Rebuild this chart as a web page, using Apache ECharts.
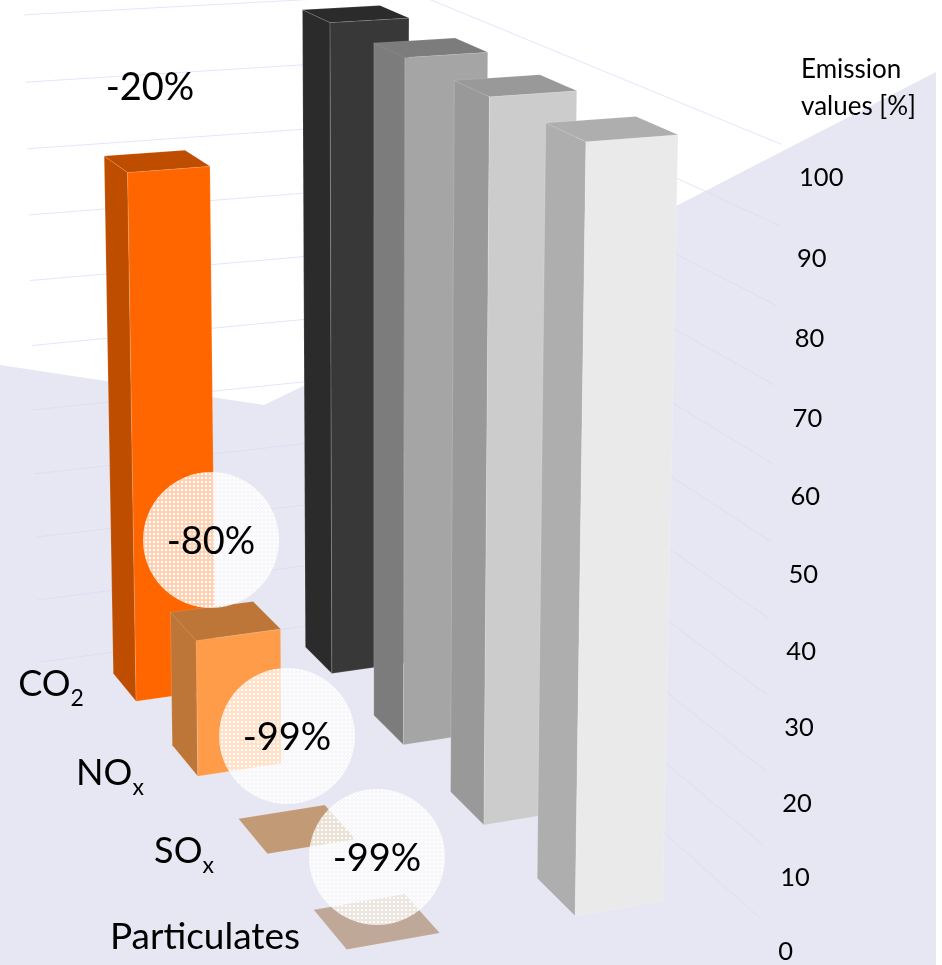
<!DOCTYPE html><html><head><meta charset="utf-8"><style>html,body{margin:0;background:#fff}#c{width:942px;height:965px}</style>
<script src="https://cdn.jsdelivr.net/npm/echarts@6/dist/echarts.min.js"></script></head><body><div id="c"></div><script>
// Data
var categories=['CO2','NOx','SOx','Particulates'];
var baselineValues=[100,100,100,100];
var reducedValues=[80,20,1,1];
var reductionLabels=['-20%','-80%','-99%','-99%'];
var valueTicks=[0,10,20,30,40,50,60,70,80,90,100];
var axisTitle='Emission\nvalues [%]';

// Camera: maps (column, row, value) to a position on the hidden pixel axes
var h=[199.71505,49.375277,-15.845360,113.31933,-10.370310,30.226838,-653.58441,673.59156,0.025071594,-0.055560971,-0.042487910];
function project(x,y,v){var z=v/100,w=h[8]*x+h[9]*y+h[10]*z+1;return[(h[0]*x+h[1]*y+h[2]*z+h[3])/w,(h[4]*x+h[5]*y+h[6]*z+h[7])/w]}
var BAR=0.4,WALL_L=-0.3,WALL_R=1.7,WALL_B=-0.29,WALL_F=3.71;
var FONT='Lato, Carlito, sans-serif';

var baselineColors=[['#383838','#2b2b2b','#2b2b2b'],['#a5a5a5','#7c7c7c','#7c7c7c'],['#cccccc','#999999','#999999'],['#eaeaea','#aeaeae','#aeaeae']];
var reducedColors=[['#ff6600','#bf4d00','#bf4d00'],['#ff9c4a','#bd7638','#bd7638'],['#c29a76','#c29a76','#c29a76'],['#bfa898','#bfa898','#bfa898']];

var tile=document.createElement('canvas');tile.width=tile.height=4;
(function(){var g=tile.getContext('2d');g.fillStyle='rgba(255,255,255,0.7)';g.fillRect(0,0,4,4);g.clearRect(1,1,2,2);g.fillStyle='rgba(255,255,255,1)';g.fillRect(1,1,2,2);})();

var barRows=[];
categories.forEach(function(c,r){barRows.push([1,r,baselineValues[r]])});
categories.forEach(function(c,r){barRows.push([0,r,reducedValues[r]])});
var tickRows=valueTicks.map(function(v){return[v]});

function renderBar(pa,api){
  var X=api.value(0),Y=api.value(1),Z=api.value(2),w=BAR;
  function q(a,b,c){return api.coord(project(a,b,c))}
  var col=(X===1?baselineColors:reducedColors)[Y];
  var top={type:'polygon',shape:{points:[q(X,Y,Z),q(X+w,Y,Z),q(X+w,Y+w,Z),q(X,Y+w,Z)]},style:{fill:col[2],stroke:'rgba(255,255,255,0.2)',lineWidth:.5}};
  if(Z<=1)return top;
  var edge='rgba(255,255,255,0.25)';
  return{type:'group',children:[
   {type:'polygon',shape:{points:[q(X,Y,Z),q(X,Y+w,Z),q(X,Y+w,0),q(X,Y,0)]},style:{fill:col[1],stroke:edge,lineWidth:.6}},
   {type:'polygon',shape:{points:[q(X,Y+w,Z),q(X+w,Y+w,Z),q(X+w,Y+w,0),q(X,Y+w,0)]},style:{fill:col[0],stroke:edge,lineWidth:.6}},
   top
  ]};
}
function renderGrid(pa,api){
  var v=api.value(0);function q(a,b,c){return api.coord(project(a,b,c))}
  return{type:'polyline',shape:{points:[q(WALL_L,WALL_B,v),q(WALL_R,WALL_B,v),q(WALL_R,WALL_F,v)]},style:{stroke:'#d9d9f7',lineWidth:.7,fill:'none'}};
}
function renderTick(pa,api){
  var v=api.value(0),p=api.coord(project(WALL_R,WALL_F,v));
  return{type:'text',x:p[0]+18,y:p[1]+33.5,style:{text:String(v),font:'25.5px '+FONT,fill:'#000',textAlign:'left',textVerticalAlign:'middle'}};
}
var labelPos=[[51,688],[110,777],[184,855],[205,937]];
var catRich={a:{fontFamily:'Lato',fontSize:36,color:'#000',padding:[0,0,8,0]},s:{fontFamily:'Lato',fontSize:23,color:'#000',verticalAlign:'bottom'},p:{fontFamily:'Lato',fontSize:37,color:'#000'}};
var catText=['{a|CO}{s|2}','{a|NO}{s|x}','{a|SO}{s|x}','{p|Particulates}'];
var circlePos=[[211,540],[287,736],[377,857]];
var graphics=[{type:'polygon',z:0,silent:true,shape:{points:[[0,365],[264,405],[680,204],[936,72],[936,965],[0,965]]},style:{fill:'#e6e7f2'}}];
circlePos.forEach(function(p,i){
 graphics.push({type:'circle',z:100,silent:true,shape:{cx:p[0],cy:p[1],r:68},style:{fill:{image:tile,repeat:'repeat'}}});
 graphics.push({type:'text',z:101,silent:true,x:p[0],y:p[1]+2,style:{text:reductionLabels[i+1],font:'38px '+FONT,fill:'#000',textAlign:'center',textVerticalAlign:'middle'}});
});
graphics.push({type:'text',z:101,silent:true,x:150,y:88,style:{text:reductionLabels[0],font:'38px '+FONT,fill:'#000',textAlign:'center',textVerticalAlign:'middle'}});
graphics.push({type:'text',z:101,silent:true,x:801,y:88,style:{text:axisTitle,font:'26px '+FONT,lineHeight:37,fill:'#000',textAlign:'left',textVerticalAlign:'middle'}});
var ch=echarts.init(document.getElementById('c'));
ch.setOption({animation:false,tooltip:{show:false},
 grid:{left:0,right:0,top:0,bottom:0},
 xAxis:{type:'value',min:0,max:942,show:false},
 yAxis:{type:'value',min:0,max:965,inverse:true,show:false},
 graphic:{elements:graphics},
 series:[
  {type:'custom',silent:true,clip:false,coordinateSystem:'cartesian2d',data:tickRows,renderItem:renderGrid,z:1},
  {type:'custom',silent:true,clip:false,coordinateSystem:'cartesian2d',data:barRows,renderItem:renderBar,z:2},
  {type:'custom',silent:true,clip:false,coordinateSystem:'cartesian2d',data:tickRows,renderItem:renderTick,z:3},
  {type:'custom',silent:true,clip:false,coordinateSystem:'cartesian2d',data:categories.map(function(c,i){return[i]}),z:3,
   renderItem:function(pa,api){var i=api.value(0),p=api.coord(labelPos[i]);
    return{type:'text',x:p[0],y:p[1],style:{text:catText[i],rich:catRich,align:'center',verticalAlign:'middle'}}}}
 ]});
</script></body></html>
